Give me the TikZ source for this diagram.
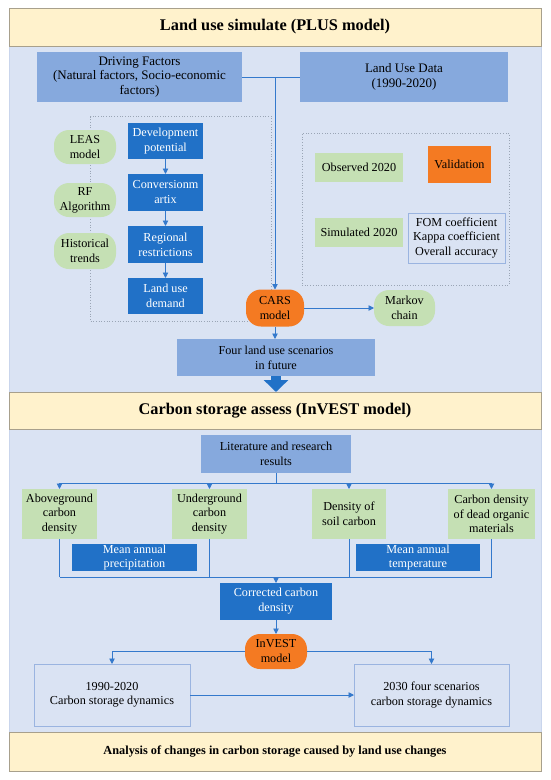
\documentclass[tikz,border=0pt]{standalone}
\usepackage{fontspec}
\setmainfont{Liberation Serif}
\usetikzlibrary{arrows.meta}
\definecolor{bannerY}{HTML}{FFF2CC}
\definecolor{bannerE}{HTML}{A8A08C}
\definecolor{panelB}{HTML}{DAE3F3}
\definecolor{panelE}{HTML}{C9D5EC}
\definecolor{midB}{HTML}{86A9DD}
\definecolor{darkB}{HTML}{2171C7}
\definecolor{greenL}{HTML}{C5E0B4}
\definecolor{orangeV}{HTML}{F47A22}
\definecolor{lineB}{HTML}{3479CC}
\definecolor{dotG}{HTML}{9AA5B5}
\definecolor{outE}{HTML}{9AB4E0}
\tikzset{
  every node/.style={inner sep=0pt, outer sep=0pt, align=center},
  sized/.style 2 args={minimum width=#1pt, minimum height=#2pt},
  bannerbox/.style={fill=bannerY, draw=bannerE, line width=0.8pt, font=\fontsize{16.3}{19}\selectfont\bfseries},
  panelbox/.style={fill=panelB, draw=panelE, line width=0.8pt},
  midbox/.style={fill=midB, font=\fontsize{13}{14.5}\selectfont},
  darkbox/.style={fill=darkB, text=white, font=\fontsize{12.2}{15}\selectfont},
  greenpill/.style={fill=greenL, rounded corners=15pt, font=\fontsize{12.2}{15}\selectfont},
  greenbox/.style={fill=greenL, font=\fontsize{12.2}{14.5}\selectfont},
  orangepill/.style={fill=orangeV, rounded corners=15pt, font=\fontsize{12.2}{15}\selectfont},
  orangebox/.style={fill=orangeV, font=\fontsize{12.2}{15}\selectfont},
  outbox/.style={draw=outE, line width=0.8pt, font=\fontsize{12.2}{14.5}\selectfont},
  dotbox/.style={draw=dotG, dotted, line width=0.7pt},
  conn/.style={draw=lineB, line width=0.9pt},
  arr/.style={conn, -{Triangle[width=5.5pt,length=5.5pt]}},
  bigarrow/.style={draw=darkB, line width=10pt, -{Triangle[width=24pt,length=12pt]}}
}
\begin{document}
\begin{tikzpicture}[x=1pt,y=-1pt]
\useasboundingbox (0,0) rectangle (550,780);
\fill[white] (0,0) rectangle (550,780);
% panels and banners
\node[panelbox, sized={532}{346}] (panel1) at (275,219) {};
\node[panelbox, sized={532}{303}] (panel2) at (275,580.5) {};
\node[bannerbox, sized={532}{38}] (banner1) at (275,27) {Land use simulate (PLUS model)};
\node[bannerbox, sized={532}{37}] (banner2) at (275,410.5) {Carbon storage assess (InVEST model)};
\node[bannerbox, sized={532}{39}, font=\fontsize{12.3}{14}\selectfont\bfseries] (banner3) at (275,751.5) {Analysis of changes in carbon storage caused by land use changes};
% top section
\node[midbox, sized={205}{50}] (drive) at (139.5,77) {Driving Factors\\(Natural factors, Socio-economic\\factors)};
\node[midbox, sized={208}{50}] (landuse) at (404,77) {Land Use Data\\(1990-2020)};
\node[dotbox, sized={181}{205}] (dotL) at (181,219) {};
\node[greenpill, sized={62}{34}] (leas) at (85,147) {LEAS\\model};
\node[greenpill, sized={62}{34}] (rf) at (85,200) {RF\\Algorithm};
\node[greenpill, sized={62}{36}] (hist) at (85,251) {Historical\\trends};
\node[darkbox, sized={75}{36}] (dev) at (165.5,141) {Development\\potential};
\node[darkbox, sized={75}{37}] (conv) at (165.5,192.5) {Conversionm\\artix};
\node[darkbox, sized={75}{37}] (reg) at (165.5,244.5) {Regional\\restrictions};
\node[darkbox, sized={75}{36}] (dem) at (165.5,296) {Land use\\demand};
\node[dotbox, sized={207}{152}] (dotR) at (405.5,209) {};
\node[greenbox, sized={88}{29}] (obs) at (359,167.5) {Observed 2020};
\node[orangebox, sized={63}{37}] (valid) at (459.5,164.5) {Validation};
\node[greenbox, sized={88}{29}] (sim) at (359,232.5) {Simulated 2020};
\node[outbox, sized={97}{50}] (fom) at (456.5,238) {FOM coefficient\\Kappa coefficient\\Overall accuracy};
\node[orangepill, sized={58}{37}] (cars) at (275,308) {CARS\\model};
\node[greenpill, sized={61}{36}] (markov) at (404.5,308) {Markov\\chain};
\node[midbox, sized={198}{37}, font=\fontsize{12.2}{15}\selectfont] (four) at (276,357.5) {Four land use scenarios\\in future};
\coordinate (j1) at (275,77);
\draw[conn] (drive.east) -- (landuse.west);
\draw[arr] (j1) -- (cars.north);
\draw[arr] (dev) -- (conv);
\draw[arr] (conv) -- (reg);
\draw[arr] (reg) -- (dem);
\draw[arr] (cars) -- (markov);
\draw[arr] (cars.south) -- (cars.south |- four.north);
\draw[bigarrow] (four.south) -- (four.south |- banner2.north);
% bottom section
\node[midbox, sized={150}{38}, font=\fontsize{12.2}{15}\selectfont] (lit) at (276,454) {Literature and research\\results};
\node[greenbox, sized={75}{50}] (above) at (59.5,514) {Aboveground\\carbon\\density};
\node[greenbox, sized={75}{50}] (under) at (209.5,514) {Underground\\carbon\\density};
\node[greenbox, sized={74}{50}] (soil) at (349,514) {Density of\\soil carbon};
\node[greenbox, sized={87}{50}] (dead) at (491.5,514) {Carbon density\\of dead organic\\materials};
\node[darkbox, sized={125}{27}, font=\fontsize{12.2}{14}\selectfont] (precip) at (134.5,557.5) {Mean annual\\precipitation};
\node[darkbox, sized={124}{27}, font=\fontsize{12.2}{14}\selectfont] (temp) at (418,557.5) {Mean annual\\temperature};
\node[darkbox, sized={112}{37}] (corr) at (276,601.5) {Corrected carbon\\density};
\node[orangepill, sized={62}{35}] (invest) at (276,651.5) {InVEST\\model};
\node[outbox, sized={156}{62}] (b1990) at (112,695) {1990-2020\\Carbon storage dynamics};
\node[outbox, sized={155}{62}] (b2030) at (431.5,695) {2030 four scenarios\\carbon storage dynamics};
\coordinate (busA) at (0,483);
\coordinate (busB) at (0,577);
\draw[conn] (lit.south) -- (lit.south |- busA);
\draw[conn] (above.north |- busA) -- (dead.north |- busA);
\foreach \b in {above,under,soil,dead}{
  \draw[arr] (\b.north |- busA) -- (\b.north);
  \draw[conn] (\b.south) -- (\b.south |- busB);
}
\draw[conn] (above.south |- busB) -- (dead.south |- busB);
\draw[arr] (corr.north |- busB) -- (corr.north);
\draw[arr] (corr) -- (invest);
\draw[arr] (invest.west) -| (b1990.north);
\draw[arr] (invest.east) -| (b2030.north);
\draw[arr] (b1990) -- (b2030);
\end{tikzpicture}
\end{document}
